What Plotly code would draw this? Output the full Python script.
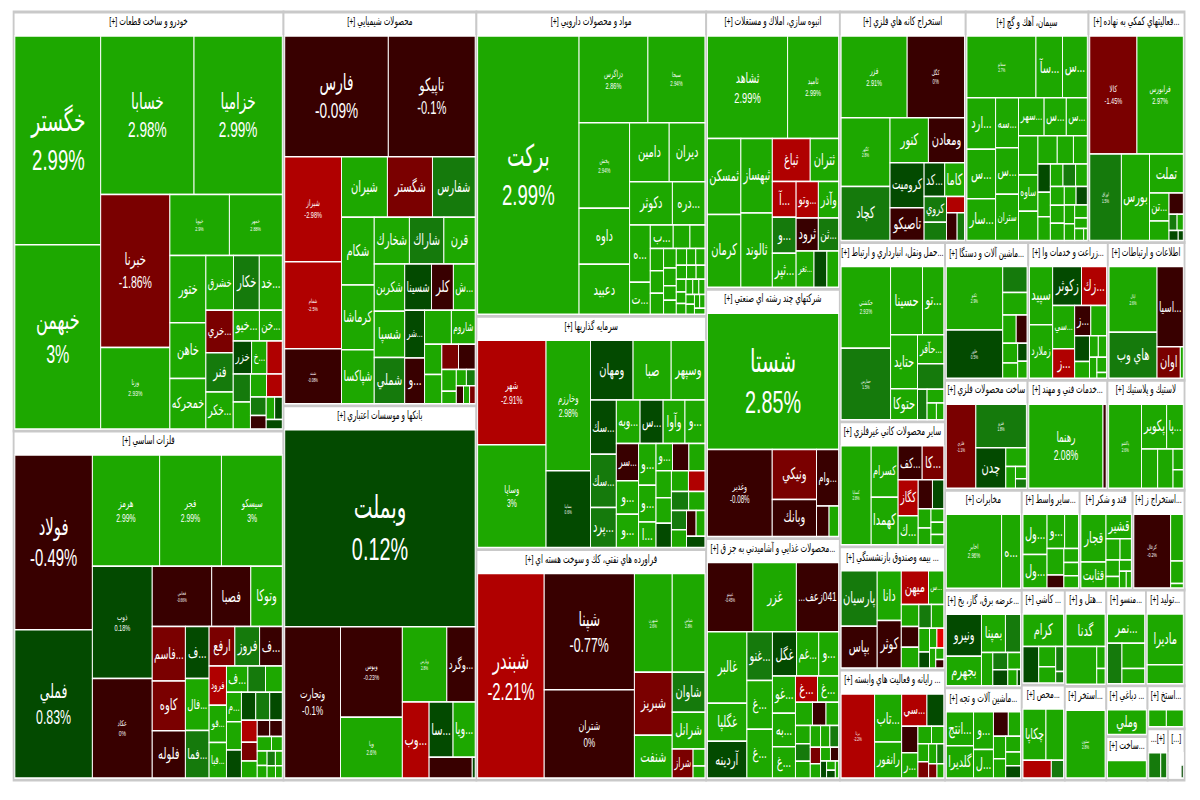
import plotly.graph_objects as go

auto_names = ["خگستر","خبهمن","خسابا","خزامیا","خبرنا","ورنا","خپویا","خمهر","ختور","خاهن","خمحرکه","خشرق","خکار","...خد","...خري","فنر","...خکر","...خیو","...خن","خزر","...خ"]
auto_values = [178,157,147,139,105,56,36,32,24,20,18,15,14,12.5,11.5,10.7,10,8,7,6,5,4.8,4.6,5,3.7,3.6,2.9,2.1,1.9,1.7,1.5]
auto_changes = [2.99,3,2.98,2.99,-1.86,2.93,2.9,2.88,2.5,2.5,2.5,2.5,1.5,2.5,-1.5,1.5,2.5,2.5,2.5,0.5,2.5,1.5,2.5,-2.5,2.5,-2.5,1.5,-0.5,2.5,0.5,0.5]

metal_names = ["فولاد","فملي","هرمز","فجر","سيسكو","ذوب","عكاد","فخاس","فصبا","وتوكا","...فاسم","كاوه","فلوله","...ف","...فال","...فما","ارفع","فروز","...ف ","فرود","...فو","...فبا","...ف  ","","","...م"]
metal_values = [132,112,73,67,66,65.5,58,35,23,18.5,17.6,16,15.3,12,12,11,9.9,9.5,8.7,6.6,6.3,6,5.5,4.5,4.3,4.3,4.1,4.1,3.9,3.8,3.4,3.4,2.9,2.6,2,2,2,1.5,1.4,1.2,1.2,1,1,0.8]
metal_changes = [-0.49,0.83,2.99,2.99,3,0.18,0,-0.66,-0.5,2.5,-1.5,-1.5,-0.4,0.5,2.5,1.5,-1.5,1.5,-0.5,-2.5,2.5,2.5,2.5,1.5,2.5,2.5,2.5,0.5,0.5,1.5,0.5,-2.5,-1.5,2.5,-0.5,-0.5,2.5,2.5,2.5,2.5,1.5,2.5,2.5,2.5]

chem_names = ["فارس","تاپيكو","شيراز","شفام","شبند","شيران","شگستر","شفارس","شكام","كرماشا","شپاكسا","شخارك","شاراك","قرن","شكربن","شسپا","شملي","شسينا","كلر","...ش","...شر","...و","","شاروم"]
chem_values = [124,104,59,49,31,27.5,27,25.6,22,21,17.5,16.3,16,14.5,14.3,14,14,12.3,10,10,9.4,9,9,8,5.2,5,4.2,4.2,3.1,1.8,1.6,1.4,1.3,1.1,1]
chem_changes = [-0.09,-0.1,-2.98,-2.5,-0.08,2.5,-1.5,1.5,2.5,2.5,2.5,2.5,1.5,2.5,2.5,2.5,1.5,0.5,-0.5,2.5,0.5,-0.5,2.5,2.5,2.5,2.5,-1.5,-0.5,2.5,2.5,2.5,1.5,-0.5,2.5,-1.5]

bank_names = ["وبملت","وتجارت","وبوس","وپا","وپارس","...وگرد","...وب","...سا","...ويا"]
bank_values = [369,83,55,37,33,21,20,13,12,8.8,0.6]
bank_changes = [0.12,-0.1,-0.23,2.6,2.8,-0.5,-2.5,0.5,2.5,-0.5,0.5]

pharma_names = ["بركت","دزاگرس","سبحا","پخش","داوه","دعبيد","دامين","ديران","دكوثر","...دره","...ه","...ت","...ب"]
pharma_values = [274,58,48,42,27.5,24.5,22.7,20.5,18,13.7,11.5,6.4,5.2,3.8,3.4,2.9,2.9,2.7,2.4,2.2,1.8,1.7,1.7,1.5,1.5,1.4,1.3,1.2,1.2,1.1,1,1,0.9,0.9,0.8,0.8,0.7,0.7,0.6]
pharma_changes = [2.99,2.86,2.94,2.94]+[2.5]*35

invest_names = ["شهر","وساپا","وخارزم","بساما","ومهان","صبا","وسپهر","...سك","...سك ","...پرد","...وبه","...س","وآوا","...و","...سر","...و ","...و  ","...و   ","...و    ","...ا","...و     "]
invest_values = [69,68,56,33,24.6,22,19.5,13.5,13.3,10,10,9.7,9.2,8.4,8,7.2,7.2,7,6.2,4.3,4.3,4.3,4.2,4,3.8,3.6,3.4,3.3,3.2,3,2.8,2.6,2.4,2.2,2]
invest_changes = [-2.91,3,2.98,0.6,0.5,2.5,2.5,0.5,1.5,1.5,2.5,0.5,2.5,2.5,-0.5,2.5,2.5,2.5,2.5,2.5,2.5,-0.5,2.5,2.5,2.5,0.5,2.5,-2.5,1.5,2.5,1.5,2.5,-0.5,2.5,0.5]

oil_names = ["شبندر","شپنا","شتران","شبهرن","شپاس","شبريز","شنفت","شاوان","شرانل","شراز"]
oil_values = [135,104,79,37,32,23.7,16,13,12,6,2,1.4]
oil_changes = [-2.21,-0.77,0,2.6,2.8,-1.5,2.5,1.5,2.5,-1.5,2.5,2.5]

build_names = ["ثشاهد","ثاميد","ثمسكن","كرمان","ثبهساز","ثالوند","ثباغ","ثتران","...آ","...و","...ثپر","...وتو","وآذر","ثرود","...ثن","...ثغر"]
build_values = [81,51.5,25,24,23,23,16,12,8.4,8.4,8,8,7.3,7.2,6.6,6.4,4.6,4.2]
build_changes = [2.99,2.99,2.5,2.5,2.5,2.5,-2.5,2.5,-2.5,1.5,2.5,-2.5,2.5,-0.5,1.5,2.5,0.5,2.5]

multi_names = ["شستا","وغدير","ونيكي","وبانك","...وام"]
multi_values = [178,56,22,16.3,12.4,3.8,2.9]
multi_changes = [2.85,-0.08,-1.5,-0.5,-0.5,-0.5,2.5]

food_names = ["غپينو","غزر","041زعف...","غالبر","غگلپا","آردينه","...غنو","...غ","...غ ","غگل","...غم","...و","...غو","...به","...غ  ","...غ   ","...غ    "]
food_values = [28,26.7,26,25,13.3,12.9,11,11,11,9.5,8.7,7.8,7.6,6.8,6.4,5.1,4.9,3.5,2.8,2.6,2.4,2.3,2.2,2,1.8,1.7,1.5,1.3,1.2,1,0.9,0.7,0.6,0.5]
food_changes = [-0.45,2.5,-0.5,2.5,2.5,0.5,1.5,2.5,2.5,0.5,2.5,2.5,2.5,2.5,2.5,-2.5,2.5,2.5,-0.5,2.5,2.5,1.5,2.5,2.5,2.5,1.5,-1.5,2.5,2.5,-0.5,0.5,2.5,0.5,2.5]

mine_names = ["فزر","كگل","كگهر","كچاد","كنور","ومعادن","كروميت","تاصيكو","...كد","كاما","كروي"]
mine_values = [53,46,33,26,17,16,15,11,6.8,6.5,5.7,4,2.9,2.9,2]
mine_changes = [2.91,0,2.8,1.5,2.5,-0.5,0.5,-0.5,0.5,2.5,1.5,1.5,-2.5,-0.5,1.5]

cement_names = ["سفانو","...سآ","...س","...ارد","...س ","...سار","...سه","...س  ","ستران","...سهر","...س   ","...س    ","","ساوه"]
cement_values = [39,15,14,13.5,13,11,10.5,9.7,9.7,8.9,7.7,7.3,7,6.5,5.2,5,4.2,3.6,3.2,2.8,2.7,2.6,2.6,2.4,2.4,2.3,2.2,2,1.9,1.8,1.6,1.5,1.2,1,0.4]
cement_changes = [2.7]+[2.5]*17+[0.5]+[2.5]*3+[1.5]+[2.5]*5+[0.5]+[2.5]*6

aux_names = ["كالا","فرابورس","اوراق","بورس","تملت","...تن"]
aux_values = [55,54,27,24,13,5.4,3.8,3,1.3,1,0.9,0.5]
aux_changes = [-1.45,2.97,1.5,2.5,2.5,2.5,2.5,-0.5,1.5,2.5,0.5,0.5]

transport_names = ["حكشتي","حفارس","حسينا","...تو","حتايد","حتوكا","...حآفر"]
transport_values = [39,34,21,14,14,8,7.3,6.5,2.8,2.2,1.5,1.2]
transport_changes = [2.93,1.5,2.5,2.5,2.5,2.5,2.5,1.5,1.5,2.5,2.5,2.5]

mineral_names = ["كساپا","كسرام","كهمدا","...كف","...كا","كگاز","...ك"]
mineral_values = [29,13.5,12.5,8,7.2,7,5.7,4,3.2,2.4,2.1,1.7,1.5,1.3]
mineral_changes = [2.8,2.5,2.5,-0.5,-1.5,-2.5,2.5,-0.5,0.5,2.5,2.5,2.5,2.5,2.5]

insure_names = ["پارسيان","بپاس","دانا","كوثر","ميهن","...س"]
insure_values = [17.5,13.2,10.5,10,8,4.5,3.4,3.2,3.2,2.6,2.6,2.2,1.5,1.3,1.2,1.1,0.8,0.6]
insure_changes = [1.5,-0.5,2.5,-0.5,-2.5,2.5,2.5,-0.5,2.5,1.5,2.5,2.5,0.5,2.5,-3,2.5,2.5,-0.5]

it_names = ["برنا","...تاب","رانفور","...سي","","","...ر"]
it_values = [26,12,9,7.5,5,4,3.8,2.2,2,1.8,1.6,1.5,1.3,1.1,0.9]
it_changes = [-2.2,2.5,2.5,-2.5,0.5,-0.5,2.5,2.5,2.5,2.5,-1.5,2.5,1.5,-1.5,2.5]

machine_names = ["تكنو","خاور"]
machine_values = [34,26,6,5.2,3.6,2.9,2.8,2.2,1.6,1.5]
machine_changes = [2.9,0.5,1.5,2.5,2.5,-0.5,2.5,2.5,0.5,2.5]

farm_names = ["سپيد","زملارد","زكوثر","...زك","...سي","...ز","...ز "]
farm_values = [12,11,10,8.7,8.4,5.8,4.3,4.2,3.4,2.2,1.7,1.6,1.4,1.3,0.5]
farm_changes = [2.5,2.5,0.5,-2.5,2.5,-2.5,-0.5,2.5,0.5,2.5,2.5,2.5,2.5,2.5,2.5]

ict_names = ["اپال","هاي وب","...اسيا","اوان"]
ict_values = [30,21,20,7,0.9]
ict_changes = [2.6,1.5,-0.5,-1.5,2.5]

fab_names = ["فلزي","فنرو","چدن"]
fab_values = [26,23,12.7,4,2.2,1.4,1.1]
fab_changes = [-1.1,1.8,0.5,2.5,2.5,2.5,1.5]

tech_names = ["رهنما"]
tech_values = [65,2.8]
tech_changes = [2.08,-0.5]

rubber_names = ["پاكشو","پكوير","...پا"]
rubber_values = [26,10.6,7,6,5.7,2,1.8]
rubber_changes = [2.6,2.5,2.5,2.5,2.5,2.5,2.5]

telecom_names = ["اخابر","...ه"]
telecom_values = [38,13]
telecom_changes = [2.96,2.5]

broker_names = ["...ول","...ول ","...و"]
broker_values = [9.6,8,6,4.7,4.4,2.2,2,1.9,1.8]
broker_changes = [2.5,2.5,2.5,2.5,2.5,-0.5,2.5,2.5,2.5]

sugar_names = ["قجار","قثابت","قشير"]
sugar_values = [12.5,6.8,6.5,3.1,2.5,2.3,1.6,1.4,1.2,0.9]
sugar_changes = [2.5,2.5,2.5,2.5,2.5,2.5,2.5,2.5,2.5,2.5]

coal_names = ["كزغال"]
coal_values = [27.7,6,2.9,0.6]
coal_changes = [-0.2,2.5,2.5,2.5]

power_names = ["ونيرو","بجهرم","بمپنا"]
power_values = [13.6,9.5,8.4,5.3,3.5,2.4,2.2,2,1.4,0.5]
power_changes = [0.5,2.5,2.5,1.5,2.5,1.5,0.5,2.5,2.5,0.5]

hotel_names = ["گدنا"]
hotel_values = [12.6,11.5,1.8,1.3]
hotel_changes = [2.5,2.5,2.5,2.5]

paper_names = ["چكاپا"]
paper_values = [10.8,8.3,4.6,2]
paper_changes = [2.5,2.5,-2.5,1.5]

tile_names = ["كرام"]
tile_values = [11.5,5,3,2.4,1.7,0.8]
tile_changes = [2.5,0.5,2.5,2.5,1.5,1.5]

other_names = ["مادیرا"]
other_values = [17,6.3]
other_changes = [2.5,2.5]

equip_names = ["...انتج","گلديرا","...و","...ل"]
equip_values = [8.7,8.2,7,5.3,3.4,2.8,2.6,2.2,2.2,1.9,1.7]
equip_changes = [2.5,2.5,2.5,2.5,-0.5,2.5,2.5,2.5,2.5,2.5,0.5]

textile_names = ["...نمر"]
textile_values = [11,5.9,5.8,3.5]
textile_changes = [2.5,1.5,2.5,2.5]

quarry_names = ["ستون"]
quarry_values = [26]
quarry_changes = [2.8]

leather_names = ["وملي"]
leather_values = [10.4]
leather_changes = [2.5]

build2_names = [""]
build2_values = [6.4]
build2_changes = [2.5]

ext_names = ["",""]
ext_values = [3,2.9]
ext_changes = [2.5,2.5]

misc1_names = ["",""]
misc1_values = [2.8,1.4]
misc1_changes = [1.5,1.5]

misc2_names = ["","",""]
misc2_values = [1.2,1.1,0.2]
misc2_changes = [None,None,0.5]

sector_titles = ["خودرو و ساخت قطعات [+]","فلزات اساسي [+]","محصولات شيميايي [+]","بانكها و موسسات اعتباري [+]","مواد و محصولات دارويي [+]","سرمايه گذاريها [+]","فراورده هاي نفتي، كك و سوخت هسته اي [+]","انبوه سازي، املاك و مستغلات [+]","شركتهاي چند رشته اي صنعتي [+]","...محصولات غذايي و آشاميدني به جز ق [+]","استخراج كانه هاي فلزي [+]","سيمان، آهك و گچ [+]","...فعاليتهاي كمكي به نهاده [+]","...حمل ونقل، انبارداري و ارتباط [+]","سایر محصولات كاني غيرفلزي [+]","... بيمه وصندوق بازنشستگي [+]","... رايانه و فعاليت هاي وابسته [+]","...ماشين آلات و دستگا [+]","...زراعت و خدمات وا [+]","اطلاعات و ارتباطات [+]","ساخت محصولات فلزي [+]","...خدمات فني و مهند [+]","لاستيك و پلاستيك [+]","مخابرات [+]","...ساير واسط [+]","قند و شكر [+]","...استخراج ز [+]","...عرضه برق، گاز، بخ [+]","...هتل و [+]","...محص [+]","... كاشي [+]","...توليد [+]","...ماشين آلات و تجه [+]","...منسو [+]","...استخر [+]","... دباغي [+]","...ساخت [+]","...استخ [+]","[+]...","[...]"]
sector_sizes = [1134,945,762,724,701,538,531,372,334,324,291,284,222,189,132,130,116,115,110,106,91,88,85,77,58,53,52,75,40,41,41,37,71,38,39,21,18,16,10.5,8.5]
sector_names = [auto_names,metal_names,chem_names,bank_names,pharma_names,invest_names,oil_names,build_names,multi_names,food_names,mine_names,cement_names,aux_names,transport_names,mineral_names,insure_names,it_names,machine_names,farm_names,ict_names,fab_names,tech_names,rubber_names,telecom_names,broker_names,sugar_names,coal_names,power_names,hotel_names,paper_names,tile_names,other_names,equip_names,textile_names,quarry_names,leather_names,build2_names,ext_names,misc1_names,misc2_names]
sector_values = [auto_values,metal_values,chem_values,bank_values,pharma_values,invest_values,oil_values,build_values,multi_values,food_values,mine_values,cement_values,aux_values,transport_values,mineral_values,insure_values,it_values,machine_values,farm_values,ict_values,fab_values,tech_values,rubber_values,telecom_values,broker_values,sugar_values,coal_values,power_values,hotel_values,paper_values,tile_values,other_values,equip_values,textile_values,quarry_values,leather_values,build2_values,ext_values,misc1_values,misc2_values]
sector_changes = [auto_changes,metal_changes,chem_changes,bank_changes,pharma_changes,invest_changes,oil_changes,build_changes,multi_changes,food_changes,mine_changes,cement_changes,aux_changes,transport_changes,mineral_changes,insure_changes,it_changes,machine_changes,farm_changes,ict_changes,fab_changes,tech_changes,rubber_changes,telecom_changes,broker_changes,sugar_changes,coal_changes,power_changes,hotel_changes,paper_changes,tile_changes,other_changes,equip_changes,textile_changes,quarry_changes,leather_changes,build2_changes,ext_changes,misc1_changes,misc2_changes]

PCT_LABEL_PX = {"خگستر":30,"خبهمن":26,"خسابا":22,"خزامیا":22,"خبرنا":17,"ورنا":8,"خپویا":6,"خمهر":6,
 "فولاد":24,"فملي":20,"هرمز":11,"فجر":11,"سيسكو":11,"ذوب":9,"عكاد":8,"فخاس":5,
 "فارس":22,"تاپيكو":18,"شيراز":9,"شفام":6,"شبند":5,
 "وبملت":32,"وتجارت":13,"وبوس":8,"وپا":7,"وپارس":5,
 "بركت":30,"دزاگرس":9,"سبحا":7,"پخش":7,
 "شهر":11,"وساپا":11,"وخارزم":11,"بساما":5,
 "شبندر":24,"شپنا":20,"شتران":13,"شبهرن":5,"شپاس":5,
 "ثشاهد":15,"ثاميد":9,"شستا":32,"وغدير":10,"غپينو":5,
 "فزر":9,"كگل":7,"كگهر":5,"سفانو":5,"كالا":9,"فرابورس":9,"اوراق":5,
 "حكشتي":7,"حفارس":5,"كساپا":5,"برنا":5,"تكنو":5,"خاور":5,"اپال":5,
 "فلزي":5,"فنرو":5,"رهنما":14,"پاكشو":5,"اخابر":7,"كزغال":6,"ستون":5}
NAME_LABEL_PX = 16
HEADER_PX = 11.5
GREY = "#c9c9c9"
STRETCH = 0.6192

def rtl(s):
    return "\u202b"+s+"\u202c" if s else s

def cell_colour(change):
    if change is None: return "#ffffff"
    if change >= 2: return "#1da800"
    if change >= 1: return "#157a0c"
    if change > 0: return "#034a00"
    if change > -1: return "#380000"
    if change > -2: return "#7a0000"
    if change > -3: return "#b00000"
    return "#e60000"

ids, parents, values, texts, colors, sizes, line_colors, line_widths = ["root"],[""],[0],[""],["#ffffff"],[8],["#ffffff"],[0]
labels=[" "]
for s,(title,size,ns,vs,cs) in enumerate(zip(sector_titles,sector_sizes,sector_names,sector_values,sector_changes)):
    sid=f"s{s}"
    ids.append(sid);labels.append(rtl(title));parents.append("root");values.append(0);texts.append(rtl(title));colors.append("#ffffff");sizes.append(HEADER_PX);line_colors.append(GREY);line_widths.append(3)
    k=size/sum(vs)
    for i,v in enumerate(vs):
        n=ns[i].strip() if i<len(ns) else ""
        c=cs[i] if i<len(cs) else 2.5
        ids.append(f"{sid}_{i}");parents.append(sid);values.append(v*k)
        px=PCT_LABEL_PX.get(n)
        t=f"{rtl(n)}<br>{c:g}%" if px else rtl(n)
        labels.append(t if t else " ")
        texts.append(t);colors.append(cell_colour(c));sizes.append(px or NAME_LABEL_PX);line_colors.append("#ffffff");line_widths.append(1.5)

fig=go.Figure(go.Treemap(ids=ids,labels=labels,parents=parents,values=values,text=texts,textinfo="text",branchvalues="remainder",sort=True,
    marker=dict(colors=colors,line=dict(color=line_colors,width=line_widths),pad=dict(t=24,l=2,r=2,b=2),depthfade=False),
    textfont=dict(family="'Liberation Sans','DejaVu Sans',sans-serif",size=sizes,color=["#000000" if i.count("_")==0 else "#ffffff" for i in ids]),
    textposition="middle center",pathbar=dict(visible=False),tiling=dict(packing="squarify",pad=0),hoverinfo="skip"))
fig.update_layout(width=1938,height=812,margin=dict(l=20,r=23,t=0,b=18),paper_bgcolor="#ffffff",showlegend=False)
post=("document.documentElement.style.overflow='hidden';document.body.style.overflow='hidden';document.body.style.margin='0';"
      "var g=document.getElementById('{plot_id}');g.style.position='absolute';g.style.top='-12px';g.style.left='0';"
      "g.style.transformOrigin='0 0';g.style.transform='scaleX(%s)';" % STRETCH)
fig.write_html("out.html",post_script=post,config={"displayModeBar":False})
